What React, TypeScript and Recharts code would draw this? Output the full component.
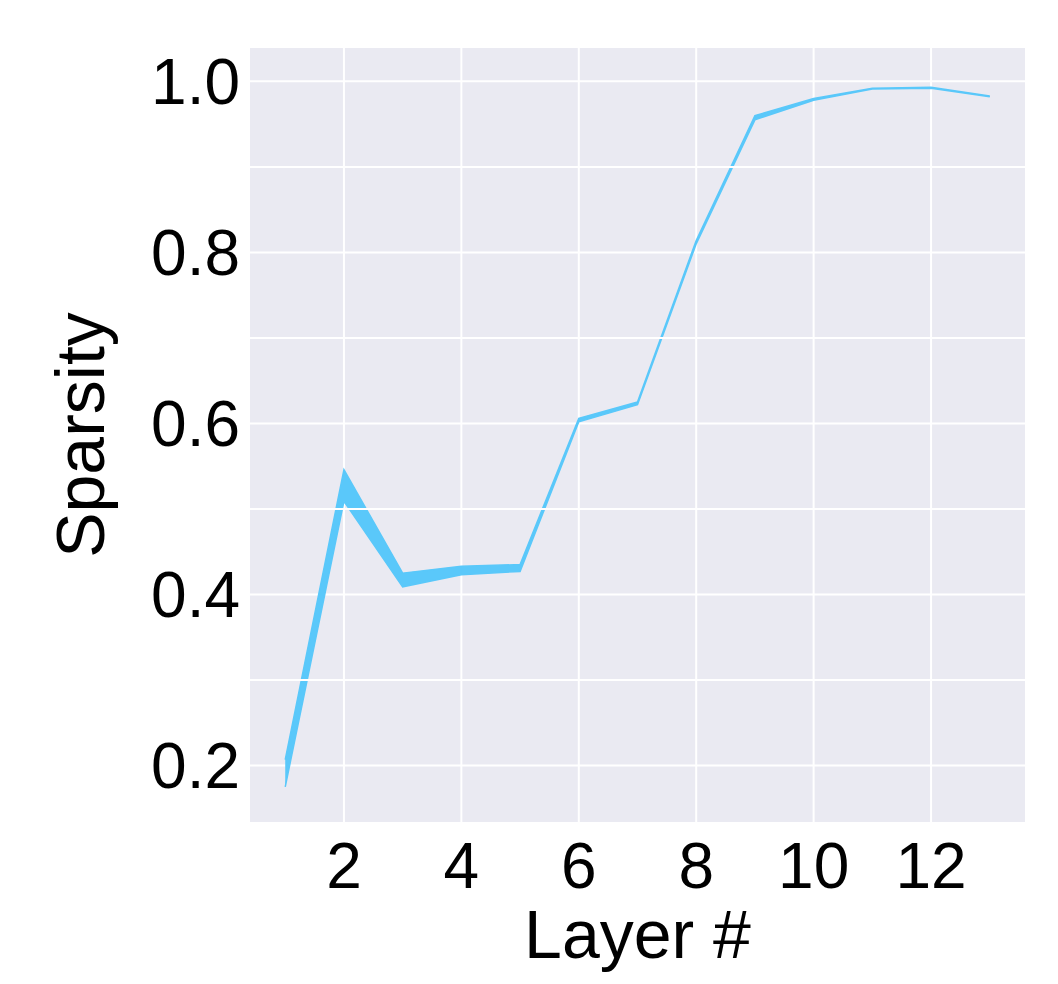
import { ComposedChart, Area, XAxis, YAxis, CartesianGrid, ReferenceLine } from 'recharts'

const layers = [1, 2, 3, 4, 5, 6, 7, 8, 9, 10, 11, 12, 13]
const sparsityLow = [0.175, 0.509, 0.409, 0.423, 0.427, 0.602, 0.622, 0.81, 0.955, 0.978, 0.991, 0.992, 0.982]
const sparsityHigh = [0.207, 0.546, 0.425, 0.433, 0.435, 0.606, 0.625, 0.814, 0.96, 0.98, 0.992, 0.993, 0.983]

const xTicks = [2, 4, 6, 8, 10, 12]
const yTicks = [0.2, 0.4, 0.6, 0.8, 1.0]
const yMinorGrid = [0.1, 0.3, 0.5, 0.7, 0.9]

const data = layers.map((layer, i) => ({ layer, band: [sparsityLow[i], sparsityHigh[i]] }))

const FONT = '"Liberation Sans", Arial, Helvetica, sans-serif'
const BAND = '#5ac8fa'

const App = () => (
  <ComposedChart
    width={1042}
    height={968}
    data={data}
    margin={{ top: 40, right: 25, bottom: 0, left: 0 }}
    style={{ fontFamily: FONT }}
  >
    <CartesianGrid
      fill="#eaeaf2"
      stroke="#ffffff"
      strokeWidth={2}
      strokeDasharray=""
      verticalValues={xTicks}
      horizontalValues={yTicks}
    />
    {yMinorGrid.map((v) => (
      <ReferenceLine key={v} y={v} stroke="#ffffff" strokeWidth={2} ifOverflow="hidden" />
    ))}
    <XAxis
      dataKey="layer"
      type="number"
      domain={[0.4, 13.6]}
      ticks={xTicks}
      allowDataOverflow
      axisLine={false}
      tickLine={false}
      height={154}
      tick={{ fill: '#000', fontSize: 64, dy: 13 }}
      label={{ value: 'Layer #', position: 'insideBottom', offset: 18, fill: '#000', fontSize: 68 }}
    />
    <YAxis
      type="number"
      domain={[0.134, 1.039]}
      ticks={yTicks}
      allowDataOverflow
      axisLine={false}
      tickLine={false}
      width={242}
      tickFormatter={(v: number) => v.toFixed(1)}
      tick={{ fill: '#000', fontSize: 64, dx: -2 }}
      label={{ value: 'Sparsity', angle: -90, position: 'insideLeft', offset: 72, fill: '#000', fontSize: 68, style: { textAnchor: 'middle' } }}
    />
    <Area
      dataKey="band"
      type="linear"
      stroke={BAND}
      strokeWidth={1.5}
      fill={BAND}
      fillOpacity={1}
      isAnimationActive={false}
      dot={false}
      activeDot={false}
    />
  </ComposedChart>
)

export default App
